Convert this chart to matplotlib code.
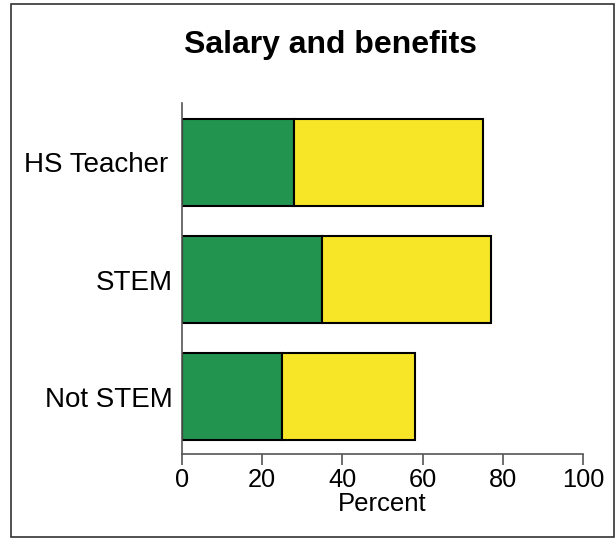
import matplotlib.pyplot as plt
import matplotlib.transforms as mtransforms
from matplotlib.patches import Rectangle

plt.rcParams['font.family'] = ['Liberation Sans', 'DejaVu Sans']

categories = ['Not STEM', 'STEM', 'HS Teacher']
green_vals = [25, 35, 28]
total_vals = [58, 77, 75]
yellow_vals = [t - g for t, g in zip(total_vals, green_vals)]

fig = plt.figure(figsize=(6.16, 5.38), dpi=100)
ax = fig.add_axes([0.2955, 0.156, 0.651, 0.653])

ypos = range(len(categories))
ax.barh(ypos, green_vals, height=0.745, color='#23944f', edgecolor='black', linewidth=1.5)
ax.barh(ypos, yellow_vals, left=green_vals, height=0.745, color='#f7e528',
        edgecolor='black', linewidth=1.5)

ax.set_xlim(0, 100)
ax.set_ylim(-0.49, 2.51)
ax.set_yticks(list(ypos))
ax.set_yticklabels(categories, fontsize=20)
ax.set_xticks([0, 20, 40, 60, 80, 100])
ax.tick_params(axis='x', labelsize=18.3, length=8, width=1.2, color='#555555', pad=2)
ax.tick_params(axis='y', length=0, pad=7)
ax.set_xlabel('Percent', fontsize=18.5, labelpad=0)

# HS Teacher label sits a bit further left in the original
lab = ax.get_yticklabels()[2]
lab.set_transform(lab.get_transform() +
                  mtransforms.ScaledTranslation(-4.5 / 100, 0, fig.dpi_scale_trans))

for s in ['top', 'right']:
    ax.spines[s].set_visible(False)
for s in ['left', 'bottom']:
    ax.spines[s].set_color('#555555')
    ax.spines[s].set_linewidth(1.2)

fig.text(330 / 616, 1 - 53 / 538, 'Salary and benefits', ha='center', va='baseline',
         fontsize=23, fontweight='bold')

fig.patches.append(Rectangle((10.5 / 616, 1.5 / 538), 603.5 / 616, 532.5 / 538,
                             transform=fig.transFigure, fill=False,
                             edgecolor='#333333', linewidth=1.2))

fig.savefig('out.png', dpi=100)
plt.close()
